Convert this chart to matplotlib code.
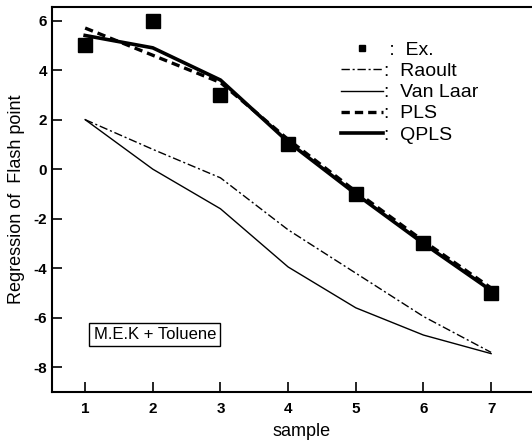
import matplotlib
matplotlib.use("Agg")
import matplotlib.pyplot as plt

plt.rcParams['font.family'] = ['Liberation Sans', 'DejaVu Sans']
plt.rcParams['axes.unicode_minus'] = False

sample = [1, 2, 3, 4, 5, 6, 7]
ex = [5.0, 6.0, 3.0, 1.0, -1.0, -3.0, -5.0]
raoult = [2.0, 0.8, -0.35, -2.45, -4.2, -5.95, -7.4]
van_laar = [2.0, 0.0, -1.6, -3.95, -5.6, -6.7, -7.45]
pls = [5.7, 4.6, 3.5, 1.2, -0.9, -2.9, -4.8]
qpls = [5.4, 4.9, 3.6, 1.1, -1.0, -3.0, -4.9]

fig = plt.figure(figsize=(5.32, 4.43), dpi=100)
# axes run off the right edge like the scanned figure
ax = fig.add_axes([52 / 532, 51 / 443, 500 / 532, 385 / 443])

ax.plot(sample, ex, 's', color='black', markersize=10, label=' :  Ex.')
ax.plot(sample, raoult, color='black', lw=1.0, linestyle=(0, (6, 2, 1.5, 2)), label=':  Raoult')
ax.plot(sample, van_laar, color='black', lw=1.0, label=':  Van Laar')
ax.plot(sample, pls, color='black', lw=2.4, linestyle=(0, (2.5, 1.5)), label=':  PLS')
ax.plot(sample, qpls, color='black', lw=2.6, label=':  QPLS')

ax.set_xlim(0.51, 7.9)
ax.set_ylim(-9, 6.55)
ax.set_xticks(sample)
ax.set_yticks([-8, -6, -4, -2, 0, 2, 4, 6])
ax.tick_params(direction='in', length=7, width=1.2, labelsize=11)
for lab in ax.get_xticklabels() + ax.get_yticklabels():
    lab.set_fontweight('bold')
ax.tick_params(axis='x', pad=7)
for s in ax.spines.values():
    s.set_linewidth(1.5)

ax.set_xlabel('sample', fontsize=13, labelpad=5)
ax.set_ylabel('Regression of  Flash point', fontsize=13, labelpad=6)

ax.text(2.03, -6.68, 'M.E.K + Toluene', fontsize=12, ha='center', va='center',
        bbox=dict(boxstyle='square,pad=0.25', facecolor='white', edgecolor='black', lw=1.0))

leg = ax.legend(loc='upper left', bbox_to_anchor=(323 / 532, 1 - 24 / 443),
                bbox_transform=fig.transFigure, frameon=False, fontsize=14,
                handlelength=2.2, handletextpad=0.05, labelspacing=0.18, markerscale=0.5)

fig.savefig('out.png', dpi=100)
